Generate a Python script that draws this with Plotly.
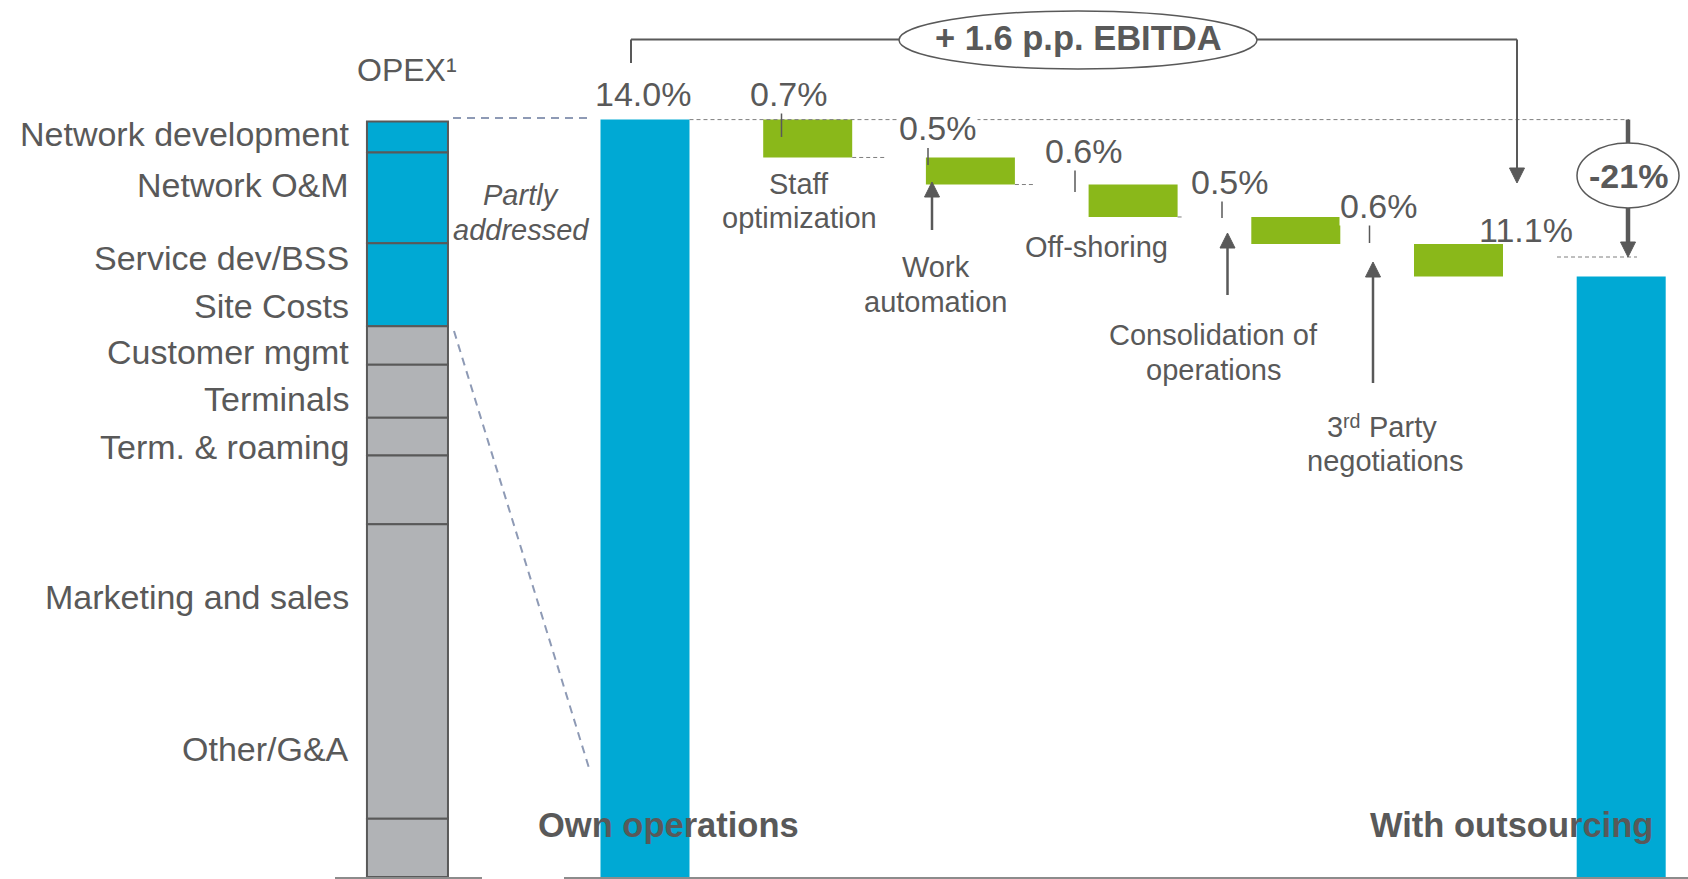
import plotly.graph_objects as go

# ---------------- data ----------------
# OPEX breakdown column: share of total OPEX per block, listed top to bottom
opex_share = [4.1, 12.0, 11.0, 5.1, 7.0, 5.0, 9.1, 39.0, 7.7]
opex_addressed = [True, True, True, False, False, False, False, False, False]
opex_labels = ["Network development", "Network O&M", "Service dev/BSS", "Site Costs",
               "Customer mgmt", "Terminals", "Term. & roaming", "Marketing and sales", "Other/G&A"]

# Waterfall: OPEX as % of revenue
start_name = "Own operations"
end_name = "With outsourcing"
start_value = 14.0
end_value = 11.1
lever_names = ["Staff<br>optimization", "Work<br>automation", "Off-shoring",
               "Consolidation of<br>operations", "3rd Party<br>negotiations"]
lever_values = [0.7, 0.5, 0.6, 0.5, 0.6]
ebitda_text = "+ 1.6 p.p. EBITDA"

# ---------------- styling / geometry ----------------
W, H = 1688, 879
FONT = "Liberation Sans, Arial, sans-serif"
TXT = "#595959"
BLUE = "#00A9D4"
GREEN = "#8AB81A"
GREY_BAR = "#B1B3B6"
EDGE = "#595959"
GUIDE = "#8E9AB5"
DASH_GREY = "#7F7F7F"

X0_PX, X_STEP_PX = 645.0, 162.7   # centre of first waterfall bar and bar spacing (px)
BASE_PX = 877.0                   # baseline (px)
Y_UNIT_PX = 54.1                  # px per percentage point of revenue
OPEX_UNIT_PX = 7.554              # px per % of OPEX
OPEX_X = -1.46                    # slot of the OPEX breakdown column
BAR_W = 0.547
OPEX_W = 0.498


def P(x):
    return x / W


def Q(y):
    return 1 - y / H


def level_px(v):
    return BASE_PX - v * Y_UNIT_PX


shapes, annotations = [], []


def line(x0, y0, x1, y1, color=EDGE, width=2, dash=None):
    shapes.append(dict(type="line", xref="paper", yref="paper",
                       x0=P(x0), y0=Q(y0), x1=P(x1), y1=Q(y1),
                       line=dict(color=color, width=width, dash=dash)))


def arrowhead(x, y_tip, up=True, w=15, h=15):
    yb = y_tip + h if up else y_tip - h
    path = (f"M {P(x - w / 2)},{Q(yb)} L {P(x)},{Q(y_tip)} "
            f"L {P(x + w / 2)},{Q(yb)} Z")
    shapes.append(dict(type="path", xref="paper", yref="paper", path=path,
                       fillcolor=EDGE, line=dict(color=EDGE, width=1)))


def ellipse(x0, y0, x1, y1):
    shapes.append(dict(type="circle", xref="paper", yref="paper",
                       x0=P(x0), y0=Q(y1), x1=P(x1), y1=Q(y0),
                       fillcolor="white", line=dict(color=EDGE, width=1.5)))


def text(x, y, s, size, xanchor="center", bg="rgba(0,0,0,0)", spacing=None,
         weight="normal", style="normal"):
    parts = s.split("<br>")
    step = spacing if spacing else size * 1.2
    for k, part in enumerate(parts):
        annotations.append(dict(xref="paper", yref="paper", x=P(x), y=Q(y + k * step),
                                text=part, showarrow=False, xanchor=xanchor,
                                yanchor="middle", bgcolor=bg, borderpad=0,
                                font=dict(family=FONT, size=size, color=TXT,
                                          weight=weight, style=style)))


def ordinal_line(x_center, y, s, size):
    """Draw e.g. '3rd Party' with the ordinal suffix raised and smaller."""
    head, rest = s.split(" ", 1)
    num, suffix = head[:-2], head[-2:]
    small = size * 0.68
    w_num = 0.556 * size * len(num)
    w_suf = 0.45 * small * len(suffix)
    w_rest = 0.278 * size + 0.52 * size * len(rest)
    x = x_center - (w_num + w_suf + w_rest) / 2
    text(x, y, num, size, xanchor="left")
    text(x + w_num, y - size * 0.22, suffix, small, xanchor="left")
    text(x + w_num + w_suf + 0.278 * size, y, rest, size, xanchor="left")


fig = go.Figure()

# OPEX breakdown column (stacked from the bottom up)
opex_base = []
acc = sum(opex_share)
for s in opex_share:
    acc -= s
    opex_base.append(acc)
fig.add_trace(go.Bar(
    x=[OPEX_X] * len(opex_share), y=opex_share, base=opex_base, width=OPEX_W,
    marker=dict(color=[BLUE if a else GREY_BAR for a in opex_addressed],
                line=dict(color=EDGE, width=2)),
    yaxis="y2", hoverinfo="skip"))

# start / end totals
fig.add_trace(go.Bar(x=[0, len(lever_values) + 1], y=[start_value, end_value],
                     width=BAR_W, marker=dict(color=BLUE, line=dict(width=0)),
                     hoverinfo="skip"))

# savings levers (floating bars)
running = start_value
lever_base = []
for v in lever_values:
    running -= v
    lever_base.append(running)
lever_x = list(range(1, len(lever_values) + 1))
fig.add_trace(go.Bar(x=lever_x, y=lever_values, base=lever_base, width=BAR_W,
                     marker=dict(color=GREEN, line=dict(width=0)), hoverinfo="skip"))

# ---------------- decorations ----------------
# baseline
line(335, 878, 482, 878, color="#8C8C8C", width=2)
line(564, 878, W, 878, color="#8C8C8C", width=2)

# guides from the addressed OPEX block to the first bar
line(453, 118, 588, 118, color=GUIDE, width=2, dash="8px,6px")
line(454, 331, 589, 768, color=GUIDE, width=2, dash="8px,6px")

# reference level at the starting value
line(X0_PX + BAR_W / 2 * X_STEP_PX, level_px(start_value), 1629, level_px(start_value),
     color=DASH_GREY, width=1, dash="4px,3px")
# connectors between consecutive levers
conn_len = [35, 20, 5]
for i, L in enumerate(conn_len):
    xr = X0_PX + (i + 1 + BAR_W / 2) * X_STEP_PX
    line(xr, level_px(lever_base[i]), xr + L, level_px(lever_base[i]),
         color=DASH_GREY, width=1, dash="4px,3px")
# end level reference
line(1557, 257, 1637, 257, color=DASH_GREY, width=1, dash="4px,3px")

# EBITDA bracket
line(631, 63, 631, 39.5)
line(631, 39.5, 899, 39.5)
line(1257, 39.5, 1517, 39.5)
line(1517, 39.5, 1517, 170)
arrowhead(1517, 183, up=False)
ellipse(899, 11, 1257, 69)
text(1078, 38, ebitda_text, 34.5, weight="bold")

# relative change marker
change = round((end_value - start_value) / start_value * 100)
line(1628, level_px(start_value), 1628, 145, width=4.5)
line(1628, 207, 1628, 245, width=4.5)
arrowhead(1628, 257, up=False)
ellipse(1577, 143, 1679, 208)
text(1628, 176, f"{change}%", 34, weight="bold")

# small ticks under the lever values
tick_pos = [(781.5, 112, 137), (928, 148, 165), (1075, 170, 192),
            (1222, 200, 218), (1369.5, 225, 243)]
for x, y0, y1 in tick_pos:
    line(x, y0, x, y1, width=1.5)

# up arrows pointing at levers
arrow_pos = [(932, 230, 182), (1227.5, 295, 233), (1373, 383, 262)]
for x, yb, yt in arrow_pos:
    line(x, yb, x, yt + 12, width=2.5)
    arrowhead(x, yt, up=True)

# ---------------- text ----------------
label_y = [133.5, 185, 258, 306, 352, 399, 447, 597, 749]
for lab, y in zip(opex_labels, label_y):
    text(350, y, lab, 34, xanchor="right")
text(407, 70, "OPEX\u00b9", 32)
text(521, 195, "Partly<br>addressed", 29, spacing=34.5, style="italic")

value_pos = [(789, 94), (938, 128), (1084, 151), (1230, 182), (1379, 206)]
text(643, 94, f"{start_value:.1f}%", 34)
for v, (x, y) in zip(lever_values, value_pos):
    text(x, y, f"{v:.1f}%", 34, bg="white")
text(1526, 230, f"{end_value:.1f}%", 34)

name_pos = [(799, 184), (936.5, 267), (1096, 246.5), (1213, 335), (1385, 427)]
NAME_SPACING = 34.5
for n, (x, y) in zip(lever_names, name_pos):
    for k, part in enumerate(n.split("<br>")):
        yy = y + k * NAME_SPACING
        head = part.split(" ")[0]
        if head[:-2].isdigit() and head[-2:] in ("st", "nd", "rd", "th"):
            ordinal_line(x, yy, part, 29)
        else:
            text(x, yy, part, 29)

text(668, 825, start_name, 34.5, weight="bold")
text(1511, 825, end_name, 34.5, weight="bold")

fig.update_layout(
    width=W, height=H, margin=dict(l=0, r=0, t=0, b=0),
    paper_bgcolor="white", plot_bgcolor="white",
    barmode="overlay", showlegend=False, hovermode=False,
    xaxis=dict(range=[-X0_PX / X_STEP_PX, (W - X0_PX) / X_STEP_PX], visible=False,
               fixedrange=True),
    yaxis=dict(range=[(BASE_PX - H) / Y_UNIT_PX, BASE_PX / Y_UNIT_PX], visible=False,
               fixedrange=True),
    yaxis2=dict(range=[(BASE_PX - H) / OPEX_UNIT_PX, BASE_PX / OPEX_UNIT_PX],
                overlaying="y", visible=False, fixedrange=True),
    shapes=shapes, annotations=annotations,
)

fig.write_html("out.html", config={"displayModeBar": False})
